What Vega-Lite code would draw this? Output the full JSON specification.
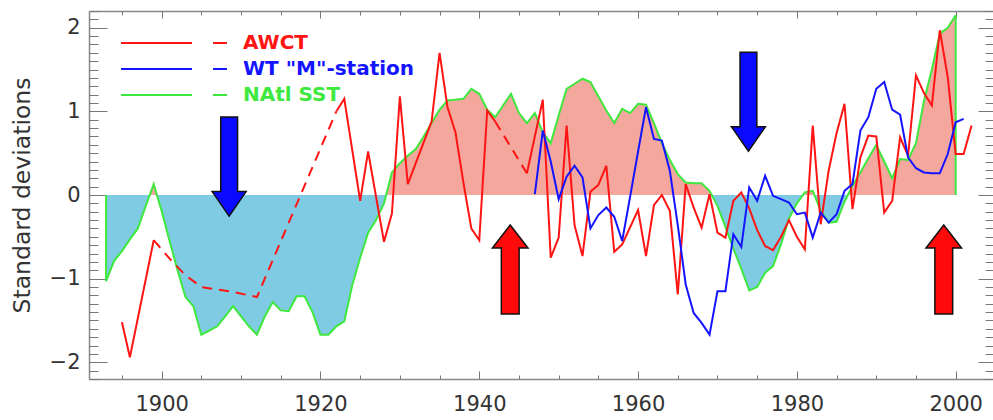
{
  "$schema": "https://vega.github.io/schema/vega-lite/v6.json",
  "width": 904,
  "height": 368,
  "autosize": "none",
  "padding": {"left": 89, "top": 11, "right": 0, "bottom": 41},
  "background": "white",
  "config": {
    "view": {"stroke": null},
    "font": "DejaVu Sans",
    "axis": {"grid": false, "labelFont": "DejaVu Sans", "titleFont": "DejaVu Sans", "labelOverlap": false, "labelFlush": false}
  },
  "datasets": {
    "sst": [
      {"year": 1893, "value": -1.03}, {"year": 1894, "value": -0.79}, {"year": 1895, "value": -0.67},
      {"year": 1896, "value": -0.53}, {"year": 1897, "value": -0.40}, {"year": 1898, "value": -0.13},
      {"year": 1899, "value": 0.13}, {"year": 1900, "value": -0.19}, {"year": 1901, "value": -0.55},
      {"year": 1902, "value": -0.90}, {"year": 1903, "value": -1.22}, {"year": 1904, "value": -1.33},
      {"year": 1905, "value": -1.67}, {"year": 1906, "value": -1.62}, {"year": 1907, "value": -1.57},
      {"year": 1908, "value": -1.45}, {"year": 1909, "value": -1.33}, {"year": 1910, "value": -1.45},
      {"year": 1911, "value": -1.57}, {"year": 1912, "value": -1.67}, {"year": 1913, "value": -1.45},
      {"year": 1914, "value": -1.28}, {"year": 1915, "value": -1.38}, {"year": 1916, "value": -1.39},
      {"year": 1917, "value": -1.21}, {"year": 1918, "value": -1.21}, {"year": 1919, "value": -1.40},
      {"year": 1920, "value": -1.67}, {"year": 1921, "value": -1.67}, {"year": 1922, "value": -1.57},
      {"year": 1923, "value": -1.51}, {"year": 1924, "value": -1.08}, {"year": 1925, "value": -0.75},
      {"year": 1926, "value": -0.45}, {"year": 1927, "value": -0.30}, {"year": 1928, "value": -0.10},
      {"year": 1929, "value": 0.27}, {"year": 1930, "value": 0.38}, {"year": 1931, "value": 0.47},
      {"year": 1932, "value": 0.55}, {"year": 1933, "value": 0.70}, {"year": 1934, "value": 0.86},
      {"year": 1935, "value": 1.02}, {"year": 1936, "value": 1.13}, {"year": 1937, "value": 1.14},
      {"year": 1938, "value": 1.15}, {"year": 1939, "value": 1.27}, {"year": 1940, "value": 1.21},
      {"year": 1941, "value": 1.02}, {"year": 1942, "value": 0.93}, {"year": 1943, "value": 1.07},
      {"year": 1944, "value": 1.21}, {"year": 1945, "value": 0.98}, {"year": 1946, "value": 0.86},
      {"year": 1947, "value": 0.98}, {"year": 1948, "value": 0.75}, {"year": 1949, "value": 0.62},
      {"year": 1950, "value": 0.95}, {"year": 1951, "value": 1.27}, {"year": 1952, "value": 1.33},
      {"year": 1953, "value": 1.39}, {"year": 1954, "value": 1.35}, {"year": 1955, "value": 1.18},
      {"year": 1956, "value": 1.01}, {"year": 1957, "value": 0.86}, {"year": 1958, "value": 1.03},
      {"year": 1959, "value": 0.98}, {"year": 1960, "value": 1.09}, {"year": 1961, "value": 1.08},
      {"year": 1962, "value": 0.86}, {"year": 1963, "value": 0.62}, {"year": 1964, "value": 0.42},
      {"year": 1965, "value": 0.25}, {"year": 1966, "value": 0.15}, {"year": 1967, "value": 0.14},
      {"year": 1968, "value": 0.14}, {"year": 1969, "value": 0.05}, {"year": 1970, "value": -0.13},
      {"year": 1971, "value": -0.38}, {"year": 1972, "value": -0.64}, {"year": 1973, "value": -0.88},
      {"year": 1974, "value": -1.14}, {"year": 1975, "value": -1.10}, {"year": 1976, "value": -0.93},
      {"year": 1977, "value": -0.85}, {"year": 1978, "value": -0.59}, {"year": 1979, "value": -0.28},
      {"year": 1980, "value": -0.10}, {"year": 1981, "value": 0.03}, {"year": 1982, "value": 0.05},
      {"year": 1983, "value": -0.19}, {"year": 1984, "value": -0.33}, {"year": 1985, "value": -0.32},
      {"year": 1986, "value": -0.08}, {"year": 1987, "value": 0.11}, {"year": 1988, "value": 0.27},
      {"year": 1989, "value": 0.44}, {"year": 1990, "value": 0.60}, {"year": 1991, "value": 0.40},
      {"year": 1992, "value": 0.20}, {"year": 1993, "value": 0.43}, {"year": 1994, "value": 0.42},
      {"year": 1995, "value": 0.62}, {"year": 1996, "value": 1.12}, {"year": 1997, "value": 1.50},
      {"year": 1998, "value": 1.93}, {"year": 1999, "value": 2.00}, {"year": 2000, "value": 2.15}
    ],
    "awct": [
      {"year": 1895, "value": -1.52, "status": "observed", "segment": 1},
      {"year": 1896, "value": -1.94, "status": "observed", "segment": 1},
      {"year": 1899, "value": -0.54, "status": "observed", "segment": 1},
      {"year": 1899, "value": -0.54, "status": "gap", "segment": 2},
      {"year": 1901, "value": -0.76, "status": "gap", "segment": 2},
      {"year": 1903, "value": -0.96, "status": "gap", "segment": 2},
      {"year": 1905, "value": -1.10, "status": "gap", "segment": 2},
      {"year": 1909, "value": -1.16, "status": "gap", "segment": 2},
      {"year": 1912, "value": -1.22, "status": "gap", "segment": 2},
      {"year": 1922, "value": 1.00, "status": "gap", "segment": 2},
      {"year": 1922, "value": 1.00, "status": "observed", "segment": 3},
      {"year": 1923, "value": 1.15, "status": "observed", "segment": 3},
      {"year": 1925, "value": -0.07, "status": "observed", "segment": 3},
      {"year": 1926, "value": 0.52, "status": "observed", "segment": 3},
      {"year": 1928, "value": -0.56, "status": "observed", "segment": 3},
      {"year": 1929, "value": -0.22, "status": "observed", "segment": 3},
      {"year": 1930, "value": 1.18, "status": "observed", "segment": 3},
      {"year": 1931, "value": 0.13, "status": "observed", "segment": 3},
      {"year": 1934, "value": 0.88, "status": "observed", "segment": 3},
      {"year": 1935, "value": 1.70, "status": "observed", "segment": 3},
      {"year": 1936, "value": 1.05, "status": "observed", "segment": 3},
      {"year": 1937, "value": 0.75, "status": "observed", "segment": 3},
      {"year": 1938, "value": 0.15, "status": "observed", "segment": 3},
      {"year": 1939, "value": -0.40, "status": "observed", "segment": 3},
      {"year": 1940, "value": -0.54, "status": "observed", "segment": 3},
      {"year": 1941, "value": 1.01, "status": "observed", "segment": 3},
      {"year": 1942, "value": 0.88, "status": "observed", "segment": 3},
      {"year": 1942, "value": 0.88, "status": "gap", "segment": 4},
      {"year": 1946, "value": 0.26, "status": "gap", "segment": 4},
      {"year": 1946, "value": 0.26, "status": "observed", "segment": 5},
      {"year": 1948, "value": 1.14, "status": "observed", "segment": 5},
      {"year": 1949, "value": -0.75, "status": "observed", "segment": 5},
      {"year": 1950, "value": -0.51, "status": "observed", "segment": 5},
      {"year": 1951, "value": 0.83, "status": "observed", "segment": 5},
      {"year": 1952, "value": -0.36, "status": "observed", "segment": 5},
      {"year": 1953, "value": -0.73, "status": "observed", "segment": 5},
      {"year": 1954, "value": 0.04, "status": "observed", "segment": 5},
      {"year": 1955, "value": 0.12, "status": "observed", "segment": 5},
      {"year": 1956, "value": 0.35, "status": "observed", "segment": 5},
      {"year": 1957, "value": -0.68, "status": "observed", "segment": 5},
      {"year": 1958, "value": -0.59, "status": "observed", "segment": 5},
      {"year": 1960, "value": -0.18, "status": "observed", "segment": 5},
      {"year": 1961, "value": -0.73, "status": "observed", "segment": 5},
      {"year": 1962, "value": -0.12, "status": "observed", "segment": 5},
      {"year": 1963, "value": 0.00, "status": "observed", "segment": 5},
      {"year": 1964, "value": -0.19, "status": "observed", "segment": 5},
      {"year": 1965, "value": -1.19, "status": "observed", "segment": 5},
      {"year": 1966, "value": 0.13, "status": "observed", "segment": 5},
      {"year": 1967, "value": -0.15, "status": "observed", "segment": 5},
      {"year": 1968, "value": -0.39, "status": "observed", "segment": 5},
      {"year": 1969, "value": 0.01, "status": "observed", "segment": 5},
      {"year": 1970, "value": -0.45, "status": "observed", "segment": 5},
      {"year": 1971, "value": -0.51, "status": "observed", "segment": 5},
      {"year": 1972, "value": -0.07, "status": "observed", "segment": 5},
      {"year": 1973, "value": 0.03, "status": "observed", "segment": 5},
      {"year": 1974, "value": -0.16, "status": "observed", "segment": 5},
      {"year": 1975, "value": -0.42, "status": "observed", "segment": 5},
      {"year": 1976, "value": -0.61, "status": "observed", "segment": 5},
      {"year": 1977, "value": -0.66, "status": "observed", "segment": 5},
      {"year": 1978, "value": -0.50, "status": "observed", "segment": 5},
      {"year": 1979, "value": -0.30, "status": "observed", "segment": 5},
      {"year": 1980, "value": -0.50, "status": "observed", "segment": 5},
      {"year": 1981, "value": -0.65, "status": "observed", "segment": 5},
      {"year": 1982, "value": 0.83, "status": "observed", "segment": 5},
      {"year": 1983, "value": -0.35, "status": "observed", "segment": 5},
      {"year": 1984, "value": 0.29, "status": "observed", "segment": 5},
      {"year": 1985, "value": 0.74, "status": "observed", "segment": 5},
      {"year": 1986, "value": 1.09, "status": "observed", "segment": 5},
      {"year": 1987, "value": -0.17, "status": "observed", "segment": 5},
      {"year": 1988, "value": 0.45, "status": "observed", "segment": 5},
      {"year": 1989, "value": 0.71, "status": "observed", "segment": 5},
      {"year": 1990, "value": 0.70, "status": "observed", "segment": 5},
      {"year": 1991, "value": -0.21, "status": "observed", "segment": 5},
      {"year": 1992, "value": -0.07, "status": "observed", "segment": 5},
      {"year": 1993, "value": 0.69, "status": "observed", "segment": 5},
      {"year": 1994, "value": 0.47, "status": "observed", "segment": 5},
      {"year": 1995, "value": 1.43, "status": "observed", "segment": 5},
      {"year": 1996, "value": 1.22, "status": "observed", "segment": 5},
      {"year": 1997, "value": 1.07, "status": "observed", "segment": 5},
      {"year": 1998, "value": 1.97, "status": "observed", "segment": 5},
      {"year": 1999, "value": 1.41, "status": "observed", "segment": 5},
      {"year": 2000, "value": 0.49, "status": "observed", "segment": 5},
      {"year": 2001, "value": 0.49, "status": "observed", "segment": 5},
      {"year": 2002, "value": 0.83, "status": "observed", "segment": 5}
    ],
    "wt": [
      {"year": 1947, "value": 0.01}, {"year": 1948, "value": 0.77}, {"year": 1949, "value": 0.40},
      {"year": 1950, "value": -0.05}, {"year": 1951, "value": 0.22}, {"year": 1952, "value": 0.35},
      {"year": 1953, "value": 0.21}, {"year": 1954, "value": -0.40}, {"year": 1955, "value": -0.24},
      {"year": 1956, "value": -0.15}, {"year": 1957, "value": -0.26}, {"year": 1958, "value": -0.55},
      {"year": 1959, "value": -0.02}, {"year": 1960, "value": 0.52}, {"year": 1961, "value": 1.05},
      {"year": 1962, "value": 0.67}, {"year": 1963, "value": 0.65}, {"year": 1964, "value": 0.29},
      {"year": 1965, "value": -0.36}, {"year": 1966, "value": -1.07}, {"year": 1967, "value": -1.41},
      {"year": 1968, "value": -1.53}, {"year": 1969, "value": -1.67}, {"year": 1970, "value": -1.15},
      {"year": 1971, "value": -1.15}, {"year": 1972, "value": -0.47}, {"year": 1973, "value": -0.62},
      {"year": 1974, "value": 0.09}, {"year": 1975, "value": -0.07}, {"year": 1976, "value": 0.23},
      {"year": 1977, "value": -0.01}, {"year": 1978, "value": -0.05}, {"year": 1979, "value": -0.09},
      {"year": 1980, "value": -0.23}, {"year": 1981, "value": -0.21}, {"year": 1982, "value": -0.51},
      {"year": 1983, "value": -0.21}, {"year": 1984, "value": -0.33}, {"year": 1985, "value": -0.23},
      {"year": 1986, "value": 0.05}, {"year": 1987, "value": 0.13}, {"year": 1988, "value": 0.77},
      {"year": 1989, "value": 0.93}, {"year": 1990, "value": 1.27}, {"year": 1991, "value": 1.35},
      {"year": 1992, "value": 1.02}, {"year": 1993, "value": 0.96}, {"year": 1994, "value": 0.45},
      {"year": 1995, "value": 0.32}, {"year": 1996, "value": 0.27}, {"year": 1997, "value": 0.26},
      {"year": 1998, "value": 0.26}, {"year": 1999, "value": 0.49}, {"year": 2000, "value": 0.87},
      {"year": 2001, "value": 0.91}
    ],
    "arrows": [
      {"year": 1908.5, "value": 0.34, "direction": "down"},
      {"year": 1973.9, "value": 1.115, "direction": "down"},
      {"year": 1943.9, "value": -0.89, "direction": "up"},
      {"year": 1998.5, "value": -0.89, "direction": "up"}
    ]
  },
  "layer": [
    {
      "data": {"name": "sst"},
      "mark": {
        "type": "area",
        "fill": {
          "gradient": "linear", "x1": 0, "y1": 0, "x2": 0, "y2": 1,
          "stops": [
            {"offset": 0, "color": "#f4a79d"},
            {"offset": 0.5628, "color": "#f4a79d"},
            {"offset": 0.5628, "color": "#80cbe4"},
            {"offset": 1, "color": "#80cbe4"}
          ]
        },
        "fillOpacity": 1
      },
      "encoding": {
        "x": {
          "field": "year", "type": "quantitative",
          "scale": {"domain": [1890.85, 2004.7], "nice": false, "zero": false},
          "axis": {
            "orient": "bottom", "title": null, "values": [1900, 1920, 1940, 1960, 1980, 2000], "format": "d",
            "tickSize": -8, "tickColor": "#777", "tickWidth": 1,
            "domain": true, "domainColor": "#888", "domainWidth": 1.5,
            "labelFontSize": 21, "labelColor": "#333", "labelPadding": 22
          }
        },
        "y": {
          "field": "value", "type": "quantitative",
          "scale": {"domain": [-2.2, 2.2], "nice": false, "zero": false},
          "axis": {
            "orient": "left", "title": "Standard deviations", "values": [-2, -1, 0, 1, 2], "format": "d",
            "tickSize": -18, "tickColor": "#777", "tickWidth": 1,
            "domain": true, "domainColor": "#888", "domainWidth": 1.5,
            "labelFontSize": 21, "labelColor": "#333", "labelPadding": 27,
            "titleFontSize": 23.5, "titleFontWeight": "normal", "titleColor": "#333", "titlePadding": 15
          }
        },
        "y2": {"datum": 0}
      }
    },
    {
      "mark": {"type": "rule", "color": "#8c8c8c", "strokeWidth": 1.5},
      "encoding": {
        "x": {"datum": 1893, "type": "quantitative", "scale": {"domain": [1890.85, 2004.7], "nice": false, "zero": false}, "axis": null},
        "x2": {"datum": 2002},
        "y": {"datum": 0, "type": "quantitative", "scale": {"domain": [-2.2, 2.2], "nice": false, "zero": false}, "axis": null}
      }
    },
    {
      "data": {"name": "sst"},
      "transform": [{"filter": "datum.year == 1893 || datum.year == 2000"}],
      "mark": {"type": "rule", "color": "#3ee83e", "strokeWidth": 2},
      "encoding": {
        "x": {"field": "year", "type": "quantitative", "scale": {"domain": [1890.85, 2004.7], "nice": false, "zero": false}, "axis": null},
        "y": {"field": "value", "type": "quantitative", "scale": {"domain": [-2.2, 2.2], "nice": false, "zero": false}, "axis": null},
        "y2": {"datum": 0}
      }
    },
    {
      "data": {"name": "sst"},
      "mark": {"type": "line", "strokeWidth": 2},
      "encoding": {
        "x": {
          "field": "year", "type": "quantitative",
          "scale": {"domain": [1890.85, 2004.7], "nice": false, "zero": false},
          "axis": {
            "orient": "bottom", "title": null, "labels": false, "domain": false,
            "values": [1895, 1900, 1905, 1910, 1915, 1920, 1925, 1930, 1935, 1940, 1945, 1950, 1955, 1960, 1965, 1970, 1975, 1980, 1985, 1990, 1995, 2000],
            "tickSize": -4, "tickColor": "#777", "tickWidth": 1
          }
        },
        "y": {
          "field": "value", "type": "quantitative",
          "scale": {"domain": [-2.2, 2.2], "nice": false, "zero": false},
          "axis": {
            "orient": "left", "title": null, "labels": false, "domain": false,
            "values": [-2.2, -2.1, -2.0, -1.9, -1.8, -1.7, -1.6, -1.5, -1.4, -1.3, -1.2, -1.1, -1.0, -0.9, -0.8, -0.7, -0.6, -0.5, -0.4, -0.3, -0.2, -0.1, 0, 0.1, 0.2, 0.3, 0.4, 0.5, 0.6, 0.7, 0.8, 0.9, 1.0, 1.1, 1.2, 1.3, 1.4, 1.5, 1.6, 1.7, 1.8, 1.9, 2.0, 2.1, 2.2],
            "tickSize": -9, "tickColor": "#777", "tickWidth": 1
          }
        },
        "color": {
          "datum": "NAtl SST", "type": "nominal",
          "scale": {"domain": ["AWCT", "WT \"M\"-station", "NAtl SST"], "range": ["#ff1414", "#1414ff", "#3ee83e"]},
          "legend": {
            "orient": "none", "legendX": 31, "legendY": 21, "title": null, "padding": 0,
            "symbolType": "M -1,0 L 6.1,0 M 8.2,0 L 9.6,0",
            "symbolSize": 400, "symbolStrokeWidth": 2, "symbolFillColor": "transparent",
            "labelFont": "DejaVu Sans", "labelFontSize": 20, "labelFontWeight": "bold",
            "labelOffset": 101, "labelLimit": 0, "rowPadding": 5,
            "encode": {"labels": {"update": {"fill": {"scale": "color", "field": "value"}}}}
          }
        },
        "order": {"value": null}
      }
    },
    {
      "data": {"name": "awct"},
      "mark": {"type": "line", "strokeWidth": 2},
      "encoding": {
        "x": {
          "field": "year", "type": "quantitative",
          "scale": {"domain": [1890.85, 2004.7], "nice": false, "zero": false},
          "axis": {
            "orient": "top", "title": null, "labels": false,
            "values": [1900, 1920, 1940, 1960, 1980, 2000],
            "tickSize": -7, "tickColor": "#777", "tickWidth": 1,
            "domain": true, "domainColor": "#888", "domainWidth": 1.5
          }
        },
        "y": {
          "field": "value", "type": "quantitative",
          "scale": {"domain": [-2.2, 2.2], "nice": false, "zero": false},
          "axis": {
            "orient": "right", "title": null, "labels": false, "domain": false,
            "values": [-2, -1, 0, 1, 2],
            "tickSize": -15, "tickColor": "#777", "tickWidth": 1
          }
        },
        "color": {"datum": "AWCT", "type": "nominal"},
        "strokeDash": {
          "field": "status", "type": "nominal",
          "scale": {"domain": ["observed", "gap"], "range": [[1, 0], [10, 7]]},
          "legend": null
        },
        "detail": {"field": "segment", "type": "nominal"}
      }
    },
    {
      "data": {"name": "wt"},
      "mark": {"type": "line", "strokeWidth": 2},
      "encoding": {
        "x": {
          "field": "year", "type": "quantitative",
          "scale": {"domain": [1890.85, 2004.7], "nice": false, "zero": false},
          "axis": {
            "orient": "top", "title": null, "labels": false, "domain": false,
            "values": [1895, 1900, 1905, 1910, 1915, 1920, 1925, 1930, 1935, 1940, 1945, 1950, 1955, 1960, 1965, 1970, 1975, 1980, 1985, 1990, 1995, 2000],
            "tickSize": -4, "tickColor": "#777", "tickWidth": 1
          }
        },
        "y": {
          "field": "value", "type": "quantitative",
          "scale": {"domain": [-2.2, 2.2], "nice": false, "zero": false},
          "axis": {
            "orient": "right", "title": null, "labels": false, "domain": false,
            "values": [-2.2, -2.1, -2.0, -1.9, -1.8, -1.7, -1.6, -1.5, -1.4, -1.3, -1.2, -1.1, -1.0, -0.9, -0.8, -0.7, -0.6, -0.5, -0.4, -0.3, -0.2, -0.1, 0, 0.1, 0.2, 0.3, 0.4, 0.5, 0.6, 0.7, 0.8, 0.9, 1.0, 1.1, 1.2, 1.3, 1.4, 1.5, 1.6, 1.7, 1.8, 1.9, 2.0, 2.1, 2.2],
            "tickSize": -8, "tickColor": "#777", "tickWidth": 1
          }
        },
        "color": {"datum": "WT \"M\"-station", "type": "nominal"}
      }
    },
    {
      "data": {"name": "arrows"},
      "transform": [{"filter": "datum.direction == 'down'"}],
      "mark": {
        "type": "point",
        "shape": "M -0.17,-1 L 0.17,-1 L 0.17,0.505 L 0.343,0.505 L 0,1 L -0.343,0.505 L -0.17,0.505 Z",
        "size": 9801, "filled": true, "fill": "#0a0aff", "stroke": "#111", "strokeWidth": 1.5, "opacity": 1
      },
      "encoding": {
        "x": {"field": "year", "type": "quantitative", "scale": {"domain": [1890.85, 2004.7], "nice": false, "zero": false}, "axis": null},
        "y": {"field": "value", "type": "quantitative", "scale": {"domain": [-2.2, 2.2], "nice": false, "zero": false}, "axis": null}
      }
    },
    {
      "data": {"name": "arrows"},
      "transform": [{"filter": "datum.direction == 'up'"}],
      "mark": {
        "type": "point",
        "shape": "M 0,-1 L 0.4,-0.483 L 0.2,-0.483 L 0.2,1 L -0.2,1 L -0.2,-0.483 L -0.4,-0.483 Z",
        "size": 7921, "filled": true, "fill": "#ff0a0a", "stroke": "#111", "strokeWidth": 1.5, "opacity": 1
      },
      "encoding": {
        "x": {"field": "year", "type": "quantitative", "scale": {"domain": [1890.85, 2004.7], "nice": false, "zero": false}, "axis": null},
        "y": {"field": "value", "type": "quantitative", "scale": {"domain": [-2.2, 2.2], "nice": false, "zero": false}, "axis": null}
      }
    }
  ],
  "resolve": {"axis": {"x": "independent", "y": "independent"}}
}
